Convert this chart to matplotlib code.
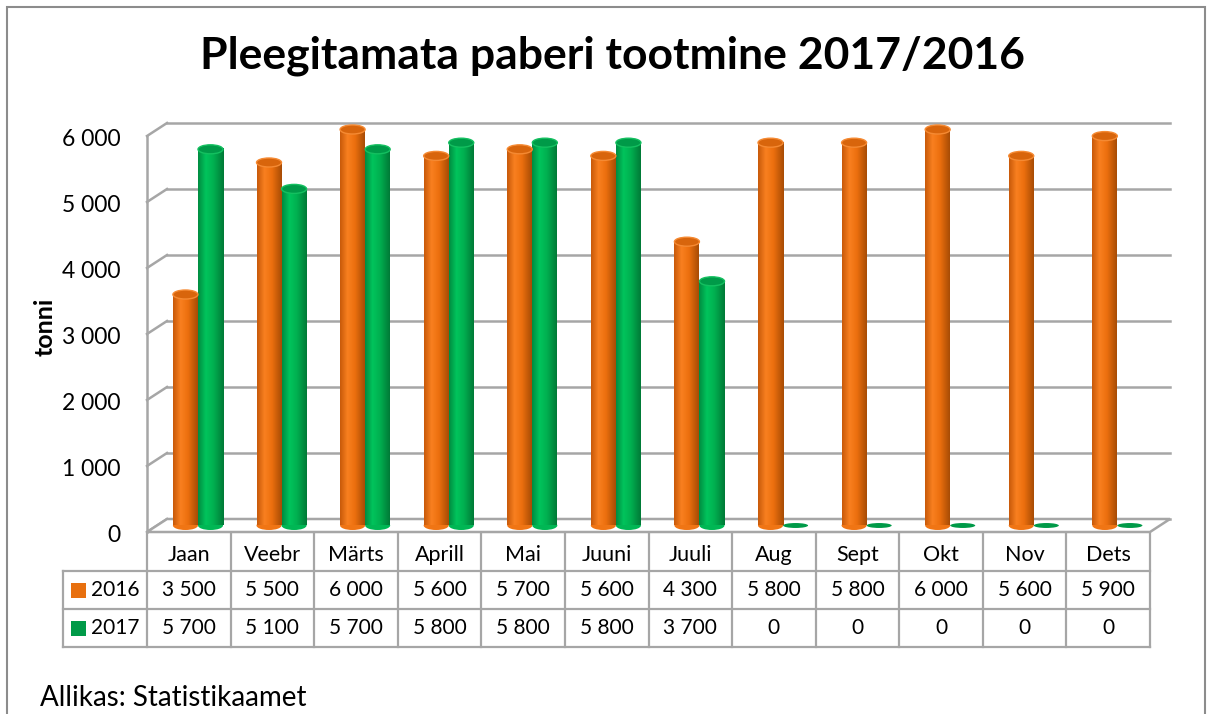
import numpy as np
import matplotlib
matplotlib.use("Agg")
import matplotlib.pyplot as plt
import matplotlib.transforms as mtrans
from matplotlib.colors import LinearSegmentedColormap
from matplotlib.patches import Ellipse, Polygon, Rectangle

# data
months = ["Jaan", "Veebr", "Märts", "Aprill", "Mai", "Juuni", "Juuli",
          "Aug", "Sept", "Okt", "Nov", "Dets"]
values_2016 = [3500, 5500, 6000, 5600, 5700, 5600, 4300, 5800, 5800, 6000, 5600, 5900]
values_2017 = [5700, 5100, 5700, 5800, 5800, 5800, 3700, 0, 0, 0, 0, 0]
series_names = ["2016", "2017"]
y_ticks = [0, 1000, 2000, 3000, 4000, 5000, 6000]

W, H = 1213, 714
FONT = "Lato"
GRID = "#a6a6a6"


def fmt(v):
    return f"{v:,}".replace(",", " ")


def fx(x):
    return x / W


def fy(y):
    return 1 - y / H


fig = plt.figure(figsize=(W / 100, H / 100), dpi=100)
fig.patches.append(Rectangle((fx(7), fy(740)), fx(1205) - fx(7), fy(7) - fy(740),
                             transform=fig.transFigure, fill=False,
                             edgecolor="#8c8c8c", lw=1.5))

# front plane of the 3D box
ax = fig.add_axes([fx(147), fy(532), fx(1150) - fx(147), fy(136) - fy(532)])
ax.patch.set_visible(False)
for s in ax.spines.values():
    s.set_visible(False)
ax.set_xlim(0, 12)
ax.set_ylim(0, 6000)

px_x = 1003 / 12.0      # pixels per category
px_y = 396 / 6000.0     # pixels per unit
DX, DY = 20 / px_x, 13 / px_y   # depth offset of the back wall

# back wall gridlines and side wall
for v in y_ticks:
    ax.plot([DX, 12 + DX], [v + DY, v + DY], color=GRID, lw=1.8, zorder=1, clip_on=False)
    ax.plot([0, DX], [v, v + DY], color=GRID, lw=1.8, zorder=1, clip_on=False)
ax.plot([0, 0], [0, 6000], color=GRID, lw=1.8, zorder=1, clip_on=False)
floor = Polygon([[0, 0], [12, 0], [12 + DX, DY], [DX, DY]], closed=True,
                facecolor="white", edgecolor=GRID, lw=1.8, zorder=1.5, clip_on=False)
ax.add_patch(floor)

ax.set_xticks([])
ax.set_yticks(y_ticks, [fmt(v) for v in y_ticks])
ax.tick_params(axis="y", length=0, pad=19, labelsize=16.5)
shift = mtrans.ScaledTranslation(0, -4 / 100, fig.dpi_scale_trans)
for lab in ax.get_yticklabels():
    lab.set_fontfamily(FONT)
    lab.set_verticalalignment("center")
    lab.set_transform(lab.get_transform() + shift)

# cylinders
def cmap_for(c_edge, c_light, c_mid, c_dark):
    return LinearSegmentedColormap.from_list(
        "c", [(0, c_edge), (0.3, c_light), (0.6, c_mid), (1.0, c_dark)])

cmaps = [cmap_for("#c85a0a", "#f98020", "#ec6f0e", "#a84c05"),
         cmap_for("#008c41", "#00c45c", "#00b050", "#007a37")]
tops = ["#d8650c", "#009a48"]
rims = ["#f58a33", "#14c060"]
offsets = [0.34, 0.64]
bw = 25 / px_x
eh = 9 / px_y
MX, MY = DX / 2, DY / 2
grad = np.linspace(0, 1, 64).reshape(1, -1)

for s, vals in enumerate([values_2016, values_2017]):
    for i, v in enumerate(vals):
        xc = i + offsets[s] + MX
        if v == 0:
            ax.add_patch(Ellipse((xc, MY), bw, eh * 0.55, facecolor=tops[s],
                                 edgecolor="none", zorder=3, clip_on=False))
            continue
        ax.add_patch(Ellipse((xc, MY), bw, eh, facecolor=cmaps[s](0.5),
                             edgecolor="none", zorder=3, clip_on=False))
        im = ax.imshow(grad, cmap=cmaps[s], aspect="auto", interpolation="bilinear",
                       extent=[xc - bw / 2, xc + bw / 2, MY, v + MY], zorder=4)
        im.set_clip_on(False)
        ax.add_patch(Ellipse((xc, v + MY), bw, eh, facecolor=tops[s],
                             edgecolor=rims[s], lw=1.0, zorder=5, clip_on=False))

ax.set_xlim(0, 12)
ax.set_ylim(0, 6000)

# data table under the chart
tab = fig.add_axes([fx(63), fy(647), fx(1150) - fx(63), fy(533) - fy(647)])
tab.axis("off")
left = -(147 - 63) / px_x
tab.set_xlim(left, 12)
tab.set_ylim(3, 0)
for k in range(13):
    tab.plot([k, k], [0, 3], color=GRID, lw=1.6, clip_on=False)
tab.plot([left, left], [1, 3], color=GRID, lw=1.6, clip_on=False)
for r in [1, 2, 3]:
    tab.plot([left, 12], [r, r], color=GRID, lw=1.6, clip_on=False)

TS = 15
for i, m in enumerate(months):
    tab.text(i + 0.5, 0.58, m, ha="center", va="center", fontsize=TS + 0.5, family=FONT)
    tab.text(i + 0.5, 1.5, fmt(values_2016[i]), ha="center", va="center", fontsize=TS, family=FONT)
    tab.text(i + 0.5, 2.5, fmt(values_2017[i]), ha="center", va="center", fontsize=TS, family=FONT)

sq_w = 15 / px_x
sq_h = 15 / 38.0
for r, name in enumerate(series_names):
    tab.add_patch(Rectangle((left + 8 / px_x, 1 + r + 0.5 - sq_h / 2), sq_w, sq_h,
                            facecolor=tops[r] if r else "#e8700f", edgecolor="none",
                            clip_on=False))
    tab.text(left + 28 / px_x, 1 + r + 0.5, name, ha="left", va="center",
             fontsize=TS, family=FONT)

# titles
fig.text(fx(612), fy(56), "Pleegitamata paberi tootmine 2017/2016", ha="center",
         va="center", fontsize=32, fontweight="bold", family=FONT)
fig.text(fx(45), fy(327), "tonni", rotation=90, ha="center", va="center",
         fontsize=18, fontweight="bold", family=FONT)
fig.text(fx(40), fy(698), "Allikas: Statistikaamet", ha="left", va="center",
         fontsize=20, family=FONT)

fig.savefig("out.png", dpi=100)
